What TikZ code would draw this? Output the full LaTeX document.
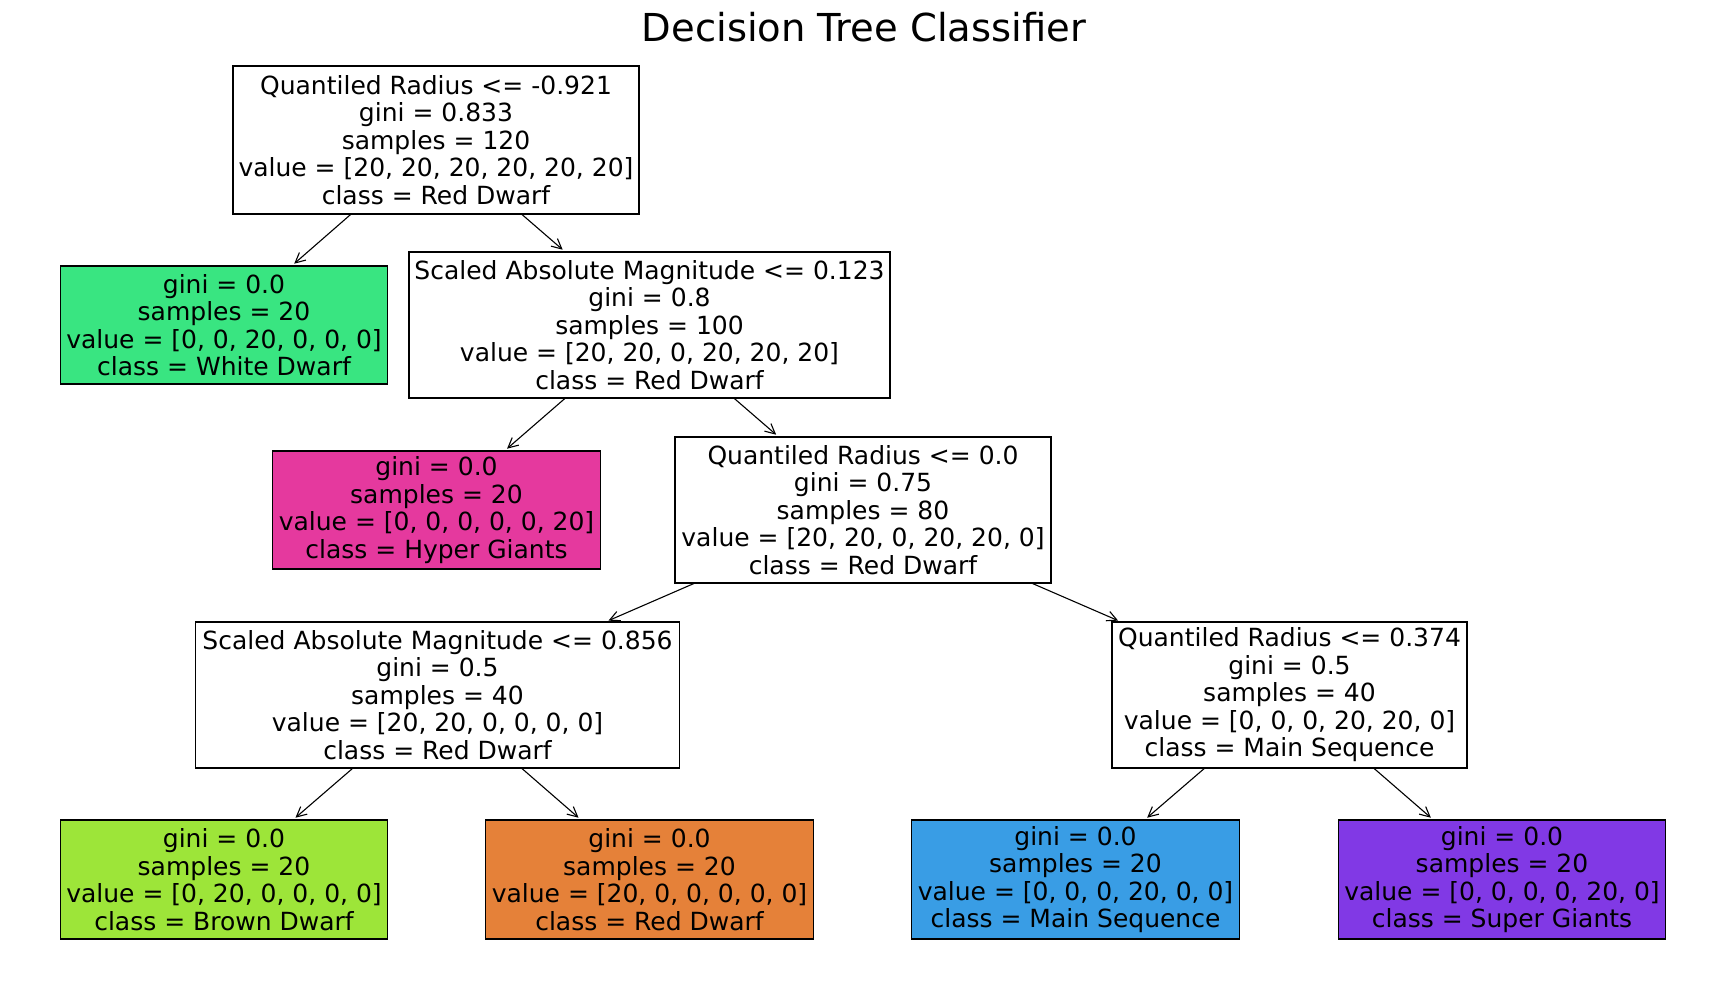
\documentclass[tikz,border=0pt]{standalone}
\usepackage{fontspec}
\setmainfont{DejaVu Sans}
\usetikzlibrary{arrows.meta}
\definecolor{cRed}{HTML}{E58139}
\definecolor{cBrown}{HTML}{9DE539}
\definecolor{cWhite}{HTML}{39E581}
\definecolor{cMain}{HTML}{399DE5}
\definecolor{cSuper}{HTML}{8139E5}
\definecolor{cHyper}{HTML}{E5399E}
\begin{document}
\begin{tikzpicture}[x=1pt,y=-1pt,
  box/.style={draw=black, line width=1.2pt, inner sep=0pt, outer sep=0pt, align=center,
    font=\fontsize{25}{27.5}\selectfont, minimum height=146pt},
  leaf/.style={box, minimum height=119pt, minimum width=327.5pt},
  edge/.style={-{Straight Barb[length=10pt,width=10pt]}, line width=1.1pt, shorten >=3.5pt}]
\useasboundingbox (0,0) rectangle (1725,982);
\node[anchor=base, font=\fontsize{38.5}{46}\selectfont] (title) at (864,42) {Decision Tree Classifier};

\node[box, minimum width=406pt, minimum height=148pt] (root) at (436,140)
  {Quantiled Radius <= -0.921\\gini = 0.833\\samples = 120\\value = [20, 20, 20, 20, 20, 20]\\class = Red Dwarf};
\node[leaf, fill=cWhite, minimum height=118pt] (white) at (224,325)
  {gini = 0.0\\samples = 20\\value = [0, 0, 20, 0, 0, 0]\\class = White Dwarf};
\node[box, minimum width=481pt] (sam1) at (649.5,325)
  {Scaled Absolute Magnitude <= 0.123\\gini = 0.8\\samples = 100\\value = [20, 20, 0, 20, 20, 20]\\class = Red Dwarf};
\node[leaf, fill=cHyper, minimum height=118pt] (hyper) at (436.5,510)
  {gini = 0.0\\samples = 20\\value = [0, 0, 0, 0, 0, 20]\\class = Hyper Giants};
\node[box, minimum width=376pt] (qr0) at (863,510)
  {Quantiled Radius <= 0.0\\gini = 0.75\\samples = 80\\value = [20, 20, 0, 20, 20, 0]\\class = Red Dwarf};
\node[box, minimum width=484pt] (sam2) at (437.5,695)
  {Scaled Absolute Magnitude <= 0.856\\gini = 0.5\\samples = 40\\value = [20, 20, 0, 0, 0, 0]\\class = Red Dwarf};
\node[box, minimum width=355pt] (qr374) at (1289.5,695)
  {Quantiled Radius <= 0.374\\gini = 0.5\\samples = 40\\value = [0, 0, 0, 20, 20, 0]\\class = Main Sequence};
\node[leaf, fill=cBrown] (brown) at (224,879.5)
  {gini = 0.0\\samples = 20\\value = [0, 20, 0, 0, 0, 0]\\class = Brown Dwarf};
\node[leaf, fill=cRed] (redleaf) at (649.5,879.5)
  {gini = 0.0\\samples = 20\\value = [20, 0, 0, 0, 0, 0]\\class = Red Dwarf};
\node[leaf, fill=cMain] (mainseq) at (1075.5,879.5)
  {gini = 0.0\\samples = 20\\value = [0, 0, 0, 20, 0, 0]\\class = Main Sequence};
\node[leaf, fill=cSuper] (super) at (1502,879.5)
  {gini = 0.0\\samples = 20\\value = [0, 0, 0, 0, 20, 0]\\class = Super Giants};

\draw[edge] (root) -- (white);
\draw[edge] (root) -- (sam1);
\draw[edge] (sam1) -- (hyper);
\draw[edge] (sam1) -- (qr0);
\draw[edge] (qr0) -- (sam2);
\draw[edge] (qr0) -- (qr374);
\draw[edge] (sam2) -- (brown);
\draw[edge] (sam2) -- (redleaf);
\draw[edge] (qr374) -- (mainseq);
\draw[edge] (qr374) -- (super);
\end{tikzpicture}
\end{document}
